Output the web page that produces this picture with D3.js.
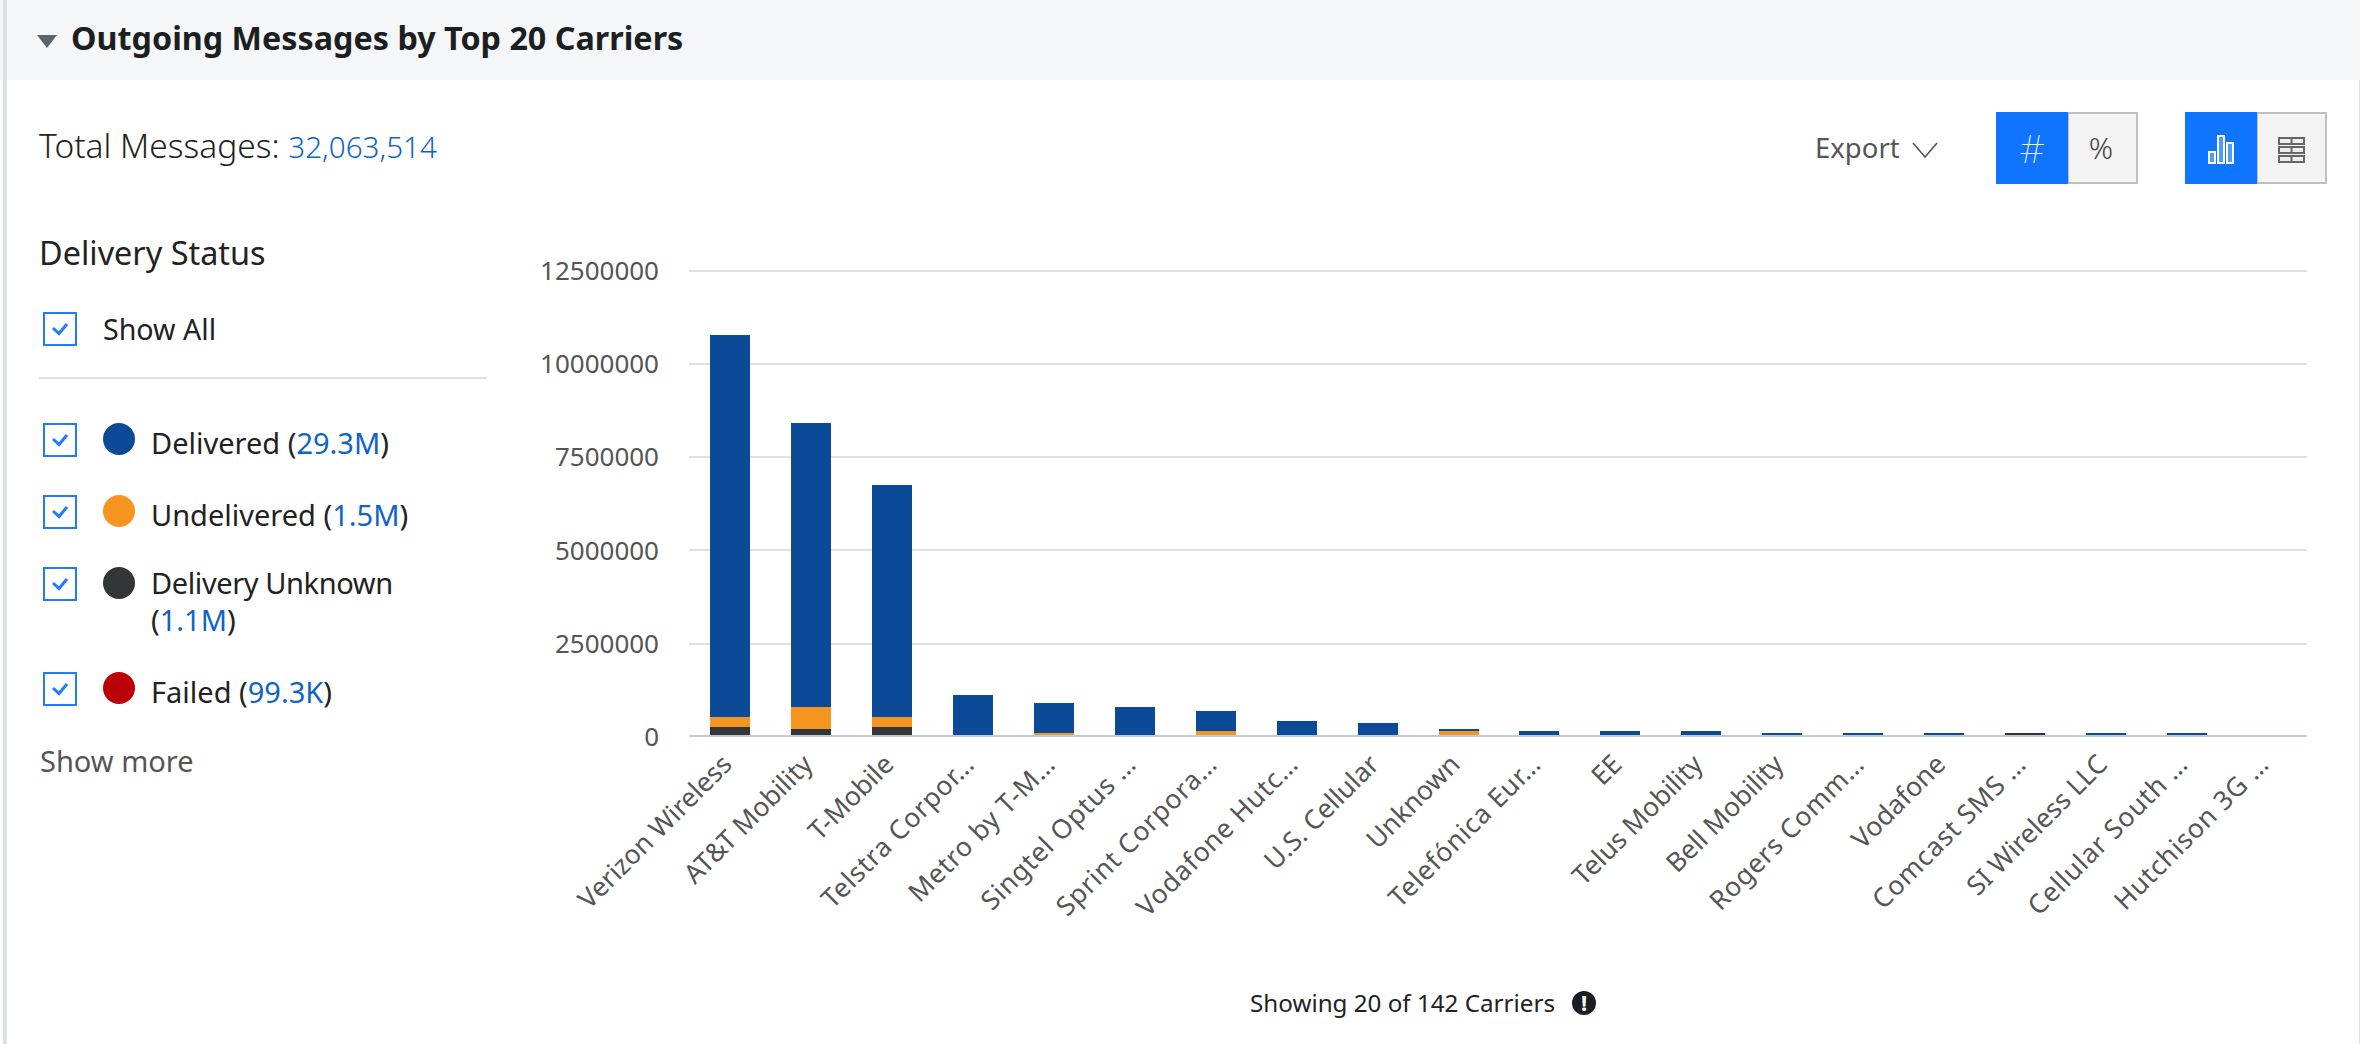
<!DOCTYPE html>
<html>
<head>
<meta charset="utf-8">
<script src="https://cdn.jsdelivr.net/npm/d3@7"></script>
<style>
    html, body { margin: 0; padding: 0; background: #fff; }
    svg { display: block; }
    text { font-family: "Noto Sans", sans-serif; }
    .grid line { stroke: #e0e0e0; stroke-width: 2; shape-rendering: crispEdges; }
    .bar { shape-rendering: crispEdges; }
    .tick-label { font-size: 26px; fill: #555; }
    .cat-label { font-size: 26.5px; fill: #555; }
    .legend-text { font-size: 29px; fill: #222; }
    .link { fill: #1063c9; }
</style>
</head>
<body>
<div id="chart"></div>
<script>
// Outgoing messages by carrier, stacked by delivery status

const carriers = ['Verizon Wireless', 'AT&T Mobility', 'T-Mobile', 'Telstra Corpor…', 'Metro by T-M…',
    'Singtel Optus …', 'Sprint Corpora…', 'Vodafone Hutc…', 'U.S. Cellular', 'Unknown',
    'Telefónica Eur…', 'EE', 'Telus Mobility', 'Bell Mobility', 'Rogers Comm…',
    'Vodafone', 'Comcast SMS …', 'SI Wireless LLC', 'Cellular South …', 'Hutchison 3G …'];

const delivered = [10237000, 7610000, 6217000, 1112000, 804000, 790000, 536000, 415000, 362000, 53000,
    147000, 147000, 147000, 94000, 94000, 94000, 0, 94000, 94000, 40000];
const undelivered = [268000, 590000, 268000, 0, 94000, 0, 147000, 0, 0, 147000,
    0, 0, 0, 0, 0, 0, 0, 0, 0, 0];
const deliveryUnknown = [255000, 200000, 255000, 0, 0, 0, 0, 0, 0, 0,
    0, 0, 0, 0, 0, 0, 94000, 0, 0, 0];
// failed messages are too thin to show on any bar
const failed = [0, 0, 0, 0, 0, 0, 0, 0, 0, 0, 0, 0, 0, 0, 0, 0, 0, 0, 0, 0];

const yTicks = [0, 2500000, 5000000, 7500000, 10000000, 12500000];

const statusNames = ['Delivered', 'Undelivered', 'Delivery Unknown', 'Failed'];
const statusTotals = ['29.3M', '1.5M', '1.1M', '99.3K'];
const statusColors = ['#0a4a96', '#f5941e', '#333536', '#bb0007'];

const totalMessages = '32,063,514';

const width = 2360, height = 1044;
const svg = d3.select('#chart').append('svg')
    .attr('width', width)
    .attr('height', height);

// Panel frame and header
svg.append('rect').attr('x', 0).attr('y', 0).attr('width', width).attr('height', 80).attr('fill', '#f5f6f8');
svg.append('rect').attr('x', 3).attr('y', 0).attr('width', 4).attr('height', height).attr('fill', '#dde0e4');
svg.append('rect').attr('x', 2359).attr('y', 80).attr('width', 1).attr('height', height - 80).attr('fill', '#e2e2e2');
svg.append('path').attr('d', 'M37,35 L57,35 L47,48 Z').attr('fill', '#5f6468');
svg.append('text').attr('x', 71).attr('y', 50)
    .style('font-size', '32.3px').style('font-weight', 700).attr('fill', '#1c1f21')
    .text('Outgoing Messages by Top 20 Carriers');

// Total line
const total = svg.append('text').attr('x', 39).attr('y', 158).style('font-size', '33.5px').style('font-weight', 300).attr('fill', '#222');
total.append('tspan').text('Total Messages: ');
total.append('tspan').attr('class', 'link').style('font-size', '29.6px').text(totalMessages);

// Toolbar
svg.append('text').attr('x', 1815).attr('y', 158).style('font-size', '27.5px').attr('fill', '#555').text('Export');
svg.append('path').attr('d', 'M1913,143 L1925,157 L1937,143').attr('fill', 'none').attr('stroke', '#555').attr('stroke-width', 1.6);

function toggleButton(x) {
    svg.append('rect').attr('x', x + 72).attr('y', 113).attr('width', 69).attr('height', 70)
        .attr('fill', '#f3f3f3').attr('stroke', '#c0c0c0').attr('stroke-width', 2);
    svg.append('rect').attr('x', x).attr('y', 112).attr('width', 72).attr('height', 72).attr('fill', '#0f74ff');
}
toggleButton(1996);
toggleButton(2185);
svg.append('text').attr('x', 2032).attr('y', 163).attr('text-anchor', 'middle')
    .style('font-size', '39px').style('font-weight', 100).attr('fill', '#fff').text('#');
svg.append('text').attr('x', 2101).attr('y', 159).attr('text-anchor', 'middle')
    .style('font-size', '30px').style('font-weight', 300).attr('fill', '#444').text('%');

[[2209, 152, 6, 11], [2218, 136, 6, 27], [2227, 143, 6, 20]].forEach(r => {
    svg.append('rect').attr('x', r[0]).attr('y', r[1]).attr('width', r[2]).attr('height', r[3])
        .attr('fill', '#4f9bff').attr('stroke', '#fff').attr('stroke-width', 2);
});
[138, 147, 156].forEach(y => {
    svg.append('rect').attr('x', 2279).attr('y', y).attr('width', 25).attr('height', 6)
        .attr('fill', '#eee').attr('stroke', '#666').attr('stroke-width', 2);
    svg.append('line').attr('x1', 2291.5).attr('x2', 2291.5).attr('y1', y).attr('y2', y + 6)
        .attr('stroke', '#666').attr('stroke-width', 2);
});

// Legend
function checkbox(top) {
    svg.append('rect').attr('x', 44).attr('y', top + 1).attr('width', 32).attr('height', 32)
        .attr('fill', '#fff').attr('stroke', '#1f7bff').attr('stroke-width', 2);
    svg.append('path').attr('d', `M53,${top + 16} L59,${top + 21.5} L67,${top + 12}`)
        .attr('fill', 'none').attr('stroke', '#1f7bff').attr('stroke-width', 3);
}

svg.append('text').attr('x', 39).attr('y', 265).style('font-size', '32.4px').attr('fill', '#222').text('Delivery Status');
checkbox(312);
svg.append('text').attr('class', 'legend-text').attr('x', 103).attr('y', 340).style('font-size', '28.6px').text('Show All');
svg.append('rect').attr('x', 39).attr('y', 377).attr('width', 448).attr('height', 2).attr('fill', '#e0e0e0');

const rowTops = [423, 495, 567, 672];
statusNames.forEach((name, i) => {
    const top = rowTops[i];
    checkbox(top);
    svg.append('circle').attr('cx', 119).attr('cy', top + 16).attr('r', 16).attr('fill', statusColors[i]);
    // "Delivery Unknown" wraps, its total goes on a second line
    const wraps = name === 'Delivery Unknown';
    const label = svg.append('text').attr('class', 'legend-text').attr('x', 151).attr('y', top + (wraps ? 27 : 31));
    label.append('tspan').style('letter-spacing', wraps ? '-0.4px' : null).text(wraps ? name : name + ' (');
    const rest = wraps ? label.append('tspan').attr('x', 151).attr('dy', 37).text('(') : label;
    rest.append('tspan').attr('class', 'link').text(statusTotals[i]);
    label.append('tspan').text(')');
});
svg.append('text').attr('x', 40).attr('y', 772).style('font-size', '29px').attr('fill', '#555').text('Show more');

// Chart
const plotLeft = 689, plotRight = 2307;

const xScale = d3.scaleBand()
    .domain(carriers)
    .range([690, 2308])
    .paddingInner(0.505)
    .paddingOuter(0.2525);

const yScale = d3.scaleLinear()
    .domain([0, 12500000])
    .range([736.5, 270]);

const gridAxis = d3.axisLeft(yScale)
    .tickValues(yTicks.slice(1))
    .tickSize(-(plotRight - plotLeft))
    .tickFormat('');
svg.append('g')
    .attr('class', 'grid')
    .attr('transform', `translate(${plotLeft},0)`)
    .call(gridAxis)
    .call(g => g.select('.domain').remove());

const yAxis = d3.axisLeft(yScale)
    .tickValues(yTicks)
    .tickSize(0)
    .tickPadding(0)
    .tickFormat(d3.format('d'));
svg.append('g')
    .attr('transform', 'translate(659,0)')
    .call(yAxis)
    .call(g => g.select('.domain').remove())
    .call(g => g.selectAll('text').attr('class', 'tick-label').attr('dy', '0.36em'));

// Stack from the bottom: unknown, undelivered, delivered, failed
const rows = carriers.map((c, i) => ({
    carrier: c,
    'Delivery Unknown': deliveryUnknown[i],
    'Undelivered': undelivered[i],
    'Delivered': delivered[i],
    'Failed': failed[i]
}));
const stack = d3.stack().keys(['Delivery Unknown', 'Undelivered', 'Delivered', 'Failed']);
const colorScale = d3.scaleOrdinal().domain(statusNames).range(statusColors);

svg.append('g').selectAll('g')
    .data(stack(rows))
    .join('g')
    .attr('fill', d => colorScale(d.key))
    .selectAll('rect')
    .data(d => d)
    .join('rect')
    .attr('class', 'bar')
    .attr('x', d => xScale(d.data.carrier))
    .attr('width', xScale.bandwidth())
    .attr('y', d => yScale(d[1]))
    .attr('height', d => yScale(d[0]) - yScale(d[1]));

// Baseline and rotated carrier labels
const xAxis = d3.axisBottom(xScale).tickSize(0).tickPadding(0);
svg.append('g')
    .attr('transform', 'translate(0,736)')
    .call(xAxis)
    .call(g => g.select('.domain').remove())
    .call(g => g.selectAll('text')
        .attr('class', 'cat-label')
        .attr('text-anchor', 'end')
        .attr('dy', 0)
        .attr('transform', 'translate(3,30) rotate(-45)')
        .attr('y', 0)
        .style('letter-spacing', d => d.endsWith('…') ? '0.7px' : null));
svg.append('rect').attr('x', plotLeft).attr('y', 735).attr('width', plotRight - plotLeft).attr('height', 2).attr('fill', '#bfcbe4');

// Footer note
svg.append('text').attr('x', 1250).attr('y', 1012).style('font-size', '24.2px').attr('fill', '#222')
    .text('Showing 20 of 142 Carriers');
svg.append('circle').attr('cx', 1584).attr('cy', 1003).attr('r', 12).attr('fill', '#1c1f21');
svg.append('text').attr('x', 1584).attr('y', 1011).attr('text-anchor', 'middle')
    .style('font-size', '22px').style('font-weight', 700).attr('fill', '#fff').text('!');
</script>
</body>
</html>
